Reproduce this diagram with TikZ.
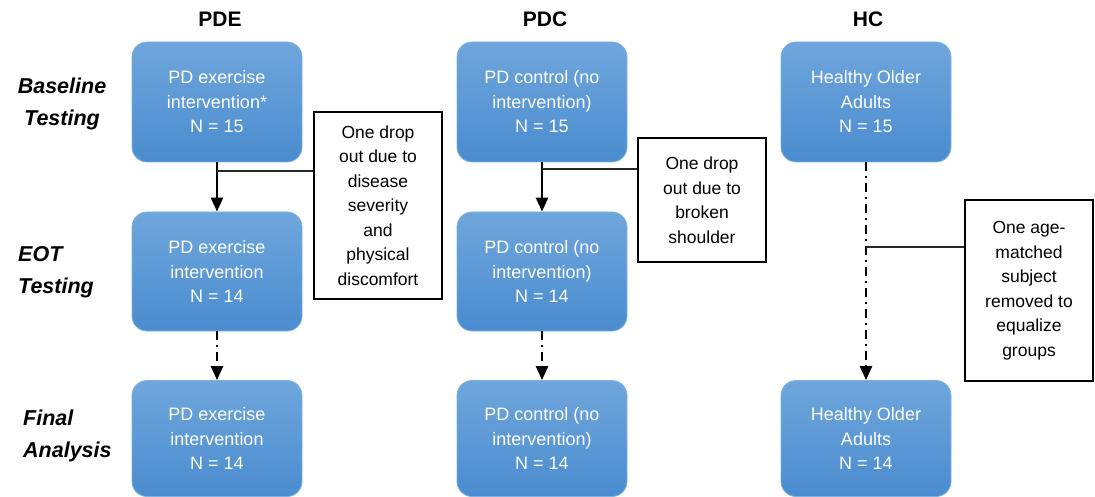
\documentclass[tikz,border=0pt]{standalone}
\usepackage{fontspec}
\setmainfont{Liberation Sans}
\usetikzlibrary{arrows.meta,positioning}
\definecolor{boxtop}{HTML}{6FA6DC}
\definecolor{boxbot}{HTML}{4A8CCF}
\definecolor{boxedge}{HTML}{7FB0E0}
\tikzset{
  flow/.style={rectangle, rounded corners=15pt, minimum width=170pt, top color=boxtop, bottom color=boxbot, draw=boxedge, line width=0.8pt, text=white, font=\fontsize{18}{24.5}\selectfont, align=center, inner sep=0pt},
  note/.style={draw=black, line width=2.5pt, fill=white, align=center, font=\fontsize{17.5}{24.5}\selectfont, inner sep=0pt, minimum width=128pt},
  hdr/.style={font=\bfseries\fontsize{21}{25}\selectfont},
  rowlab/.style={font=\bfseries\itshape\fontsize{21.5}{32}\selectfont, inner sep=0pt},
  solidarrow/.style={line width=2.5pt, -{Triangle[length=14pt,width=12pt]}},
  dasharrow/.style={solidarrow, dash pattern=on 9pt off 5pt on 2pt off 5pt},
  link/.style={line width=1.5pt, draw=black!85}
}
\begin{document}
\begin{tikzpicture}[x=1pt,y=-1pt]
\useasboundingbox (0,0) rectangle (1095,497);
% headers
\node[hdr] (hPDE) at (220,19) {PDE};
\node[hdr] (hPDC) at (545,19) {PDC};
\node[hdr] (hHC) at (868,19) {HC};
% row labels
\node[rowlab, align=center] (rBase) at (62,104) {Baseline\\Testing};
\node[rowlab, align=left, anchor=west] (rEOT) at (18,272) {EOT\\Testing};
\node[rowlab, align=left, anchor=west] (rFinal) at (23,436) {Final\\Analysis};
% PDE column
\node[flow, minimum height=120pt] (e1) at (217,102) {PD exercise\\intervention*\\N = 15};
\node[flow, minimum height=119pt] (e2) at (217,271.5) {PD exercise\\intervention\\N = 14};
\node[flow, minimum height=116pt] (e3) at (217,438.5) {PD exercise\\intervention\\N = 14};
% PDC column
\node[flow, minimum height=120pt] (c1) at (542,102) {PD control (no\\intervention)\\N = 15};
\node[flow, minimum height=119pt] (c2) at (542,271.5) {PD control (no\\intervention)\\N = 14};
\node[flow, minimum height=116pt] (c3) at (542,438.5) {PD control (no\\intervention)\\N = 14};
% HC column
\node[flow, minimum height=120pt] (h1) at (866,102) {Healthy Older\\Adults\\N = 15};
\node[flow, minimum height=116pt] (h3) at (866,438.5) {Healthy Older\\Adults\\N = 14};
% notes
\node[note, minimum height=187pt] (n1) at (378,205.5) {One drop\\out due to\\disease\\severity\\and\\physical\\discomfort};
\node[note, minimum height=124pt] (n2) at (702,200) {One drop\\out due to\\broken\\shoulder};
\node[note, minimum height=181pt] (n3) at (1029,290.5) {One age-\\matched\\subject\\removed to\\equalize\\groups};
% arrows
\draw[solidarrow] (e1) -- (e2);
\draw[dasharrow] (e2) -- (e3);
\draw[solidarrow] (c1) -- (c2);
\draw[dasharrow] (c2) -- (c3);
\draw[dasharrow] (h1) -- (h3);
% links to notes
\coordinate (j1) at (217,171);
\coordinate (j2) at (542,169);
\coordinate (j3) at (866,247);
\draw[link] (j1) -- (j1 -| n1.west);
\draw[link] (j2) -- (j2 -| n2.west);
\draw[link] (j3) -- (j3 -| n3.west);
\end{tikzpicture}
\end{document}
